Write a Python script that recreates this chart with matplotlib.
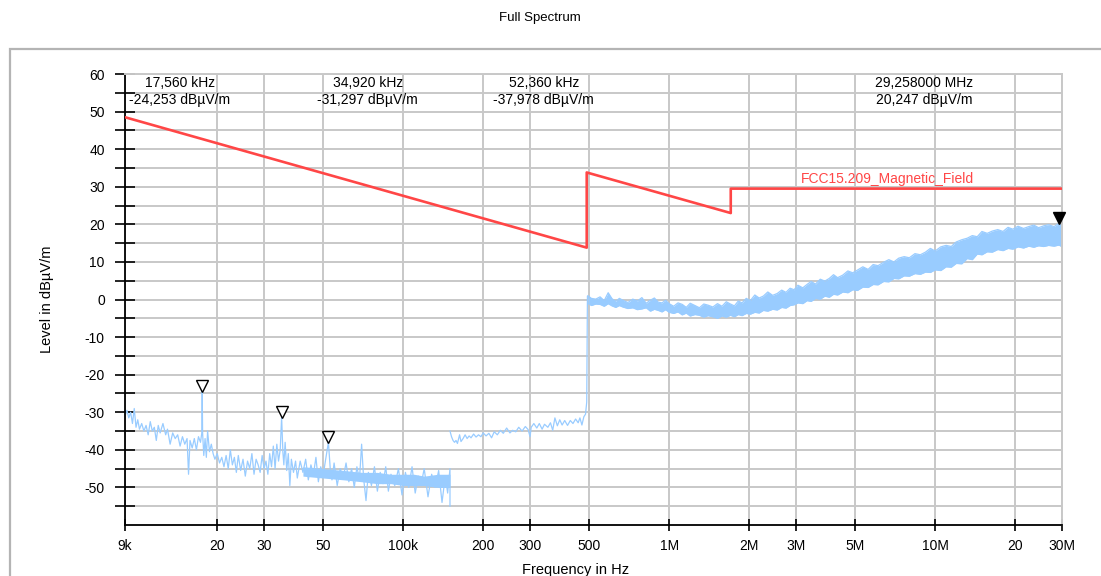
import numpy as np
import matplotlib
matplotlib.use("Agg")
from matplotlib import pyplot as plt
from matplotlib import transforms
from matplotlib.patches import Rectangle

plt.rcParams['font.family'] = ['Liberation Sans', 'DejaVu Sans']
plt.rcParams['axes.unicode_minus'] = False

# limit line FCC 15.209 (Hz, dBuV/m)
limit_f = [9e3, 490e3, 490e3, 1.705e6, 1.705e6, 30e6]
limit_lv = [48.5, 13.8, 33.8, 23.0, 29.5, 29.5]

# 9 kHz - 150 kHz sweep (kHz, dBuV/m)
lo_f = [9.0, 9.15, 9.3, 9.45, 9.6, 9.75, 9.9, 10.05, 10.2, 10.4, 10.6, 10.8, 11.0, 11.2, 11.4,
        11.6, 11.8, 12.0, 12.2, 12.5, 12.8, 13.0, 13.3, 13.6, 13.9, 14.2, 14.5, 14.8, 15.1, 15.4,
        15.6, 15.8, 16.1, 16.4, 16.7, 17.0, 17.3, 17.5, 17.56, 17.62, 17.8, 18.0, 18.2, 18.4, 18.7,
        19.0, 19.3, 19.6, 20.0, 20.4, 20.8, 21.2, 21.6, 22.0, 22.4, 22.8, 23.2, 23.6, 24.0, 24.5,
        25.0, 25.5, 26.0, 26.5, 27.0, 27.5, 28.0, 28.5, 29.0, 29.5, 30.0, 30.5, 31.0, 31.5, 32.0,
        32.5, 33.0, 33.5, 34.0, 34.5, 34.92, 35.3, 35.6, 36.0, 36.5, 37.0, 37.5, 38.0, 38.7, 39.4,
        40.0, 41, 42, 43, 44, 45, 46, 47, 48, 49, 50, 51, 52.36, 53.2, 54, 55, 56.5, 58, 59.5,
        61, 62.5, 64, 65.5, 67, 68.5, 69.8, 71, 72.5, 74, 76, 78, 80, 82, 84, 86, 88, 90, 93,
        96, 99, 102, 105, 108, 111, 114, 117, 120, 124, 128, 132, 136, 140, 144, 147, 150, 150.01]
lo_lv = [-31, -29.5, -31.5, -30, -33, -29, -34, -32, -34.5, -33, -35, -33.5, -36, -32.5, -35,
         -34, -37.5, -33.5, -35.5, -33, -36, -34.5, -38.5, -35.5, -37, -36, -39, -36.5, -38.5, -37,
         -46.5, -37.5, -39.5, -37, -40, -36.5, -38, -35.5, -24.25, -35.5, -41.5, -37, -42, -35, -40.5,
         -38.5, -41, -42.5, -41, -43.5, -42, -44.5, -41.5, -45, -40, -44, -42, -46, -41.5, -45.5,
         -42.5, -47, -43, -45, -41, -46.5, -42.5, -44, -46, -41.5, -45, -43, -46.5, -41, -44.5,
         -39, -45, -38.5, -43, -40, -31.3, -40.5, -44, -38, -45.5, -41, -49.5, -42.5, -46, -43,
         -47.5, -43, -46, -42.5, -48, -44, -46.5, -42, -48.5, -44.5, -47, -43, -38, -45, -48, -43.5,
         -49.5, -45, -47.5, -43.5, -48.5, -45, -50, -44.5, -48, -38.5, -47.5, -53.5, -46, -49.5,
         -44.5, -51, -46, -49, -44.5, -51, -46.5, -49.5, -45, -52, -46, -50, -44.5, -51.5, -47,
         -49, -45, -52.5, -46.5, -50, -45.5, -54, -47, -51.5, -45, -55]
# dense part of the low sweep (kHz, upper / lower)
lo_band_f = [42, 50, 60, 70, 80, 90, 100, 110, 120, 135, 150]
lo_band_hi = [-44.5, -45, -45.5, -46, -46, -46.5, -46.5, -46.5, -47, -46.5, -46.5]
lo_band_lo = [-47, -47.5, -48, -48.5, -49, -49, -49.5, -49.5, -49.5, -50, -50]

# 150 kHz - 490 kHz sweep (kHz, dBuV/m)
mid_f = [150, 152, 154, 156, 158, 160, 163, 165, 168, 171, 174, 177, 180, 184, 188, 192, 196,
         200, 205, 210, 215, 220, 226, 232, 238, 245, 252, 258, 265, 272, 280, 288, 295, 300,
         303, 310, 318, 325, 333, 340, 350, 358, 365, 372, 380, 388, 396, 405, 415, 425, 435,
         445, 455, 462, 470, 478, 485, 490, 493]
mid_lv = [-35, -36.5, -37.5, -38, -37.5, -38.3, -36, -37.8, -37, -36, -37, -36.3, -36.8, -35.8,
          -36.6, -36, -36.5, -35.5, -36.3, -35.6, -36.8, -35.2, -36, -34.8, -35.6, -34.2, -35.5,
          -34.8, -35.2, -34, -35, -33.8, -34.6, -36.5, -34, -33, -34.2, -33, -34.5, -33.2, -34,
          -32.8, -34.8, -31.5, -33.6, -32, -33.4, -32.2, -33.5, -32.2, -33, -31.8, -32.8, -31.5,
          -33.4, -31.2, -30.5, -27.3, 0.8]

# 490 kHz - 30 MHz sweep (MHz, upper / lower of trace)
hi_f = [0.495, 0.51, 0.53, 0.55, 0.57, 0.59, 0.61, 0.63, 0.65, 0.67,
        0.70, 0.73, 0.76, 0.79, 0.82, 0.85, 0.88, 0.91, 0.94, 0.97,
        1.0, 1.04, 1.08, 1.12, 1.16, 1.20, 1.25, 1.30, 1.35, 1.40,
        1.46, 1.52, 1.58, 1.64, 1.70, 1.76, 1.82, 1.88, 1.95, 2.02,
        2.10, 2.18, 2.26, 2.35, 2.45, 2.55, 2.65, 2.75, 2.85, 2.95,
        3.05, 3.18, 3.30, 3.42, 3.55, 3.70, 3.85, 4.0, 4.15, 4.3,
        4.5, 4.7, 4.9, 5.1, 5.35, 5.6, 5.85, 6.1, 6.4, 6.7,
        7.0, 7.3, 7.65, 8.0, 8.4, 8.8, 9.2, 9.6, 10.0, 10.5,
        11.0, 11.5, 12.0, 12.6, 13.2, 13.8, 14.4, 15.0, 15.7, 16.4,
        17.2, 18.0, 18.8, 19.6, 20.5, 21.5, 22.5, 23.5, 24.5, 25.6,
        26.7, 28.0, 29.258, 30.0]
hi_up = [1.0, 0.3, 0.1, 0.7, -0.3, 1.8, 0.2, -0.5, 0.3, -0.2,
         -0.8, 0.1, -0.4, 0.5, -1.0, -0.2, 0.4, -0.7, -0.9, -0.2,
         -1.1, -1.8, -0.9, -1.3, -2.1, -1.0, -1.6, -2.2, -1.2, -1.5,
         -2.0, -1.1, -1.8, -0.6, -1.2, -1.7, -0.4, -0.9, 0.3, -0.3,
         1.2, 0.4, 0.9, 2.0, 1.1, 1.6, 2.5, 1.9, 3.0, 2.6,
         3.8, 3.1, 4.0, 4.8, 4.1, 5.4, 4.9, 5.6, 6.6, 5.8,
         6.5, 7.6, 7.1, 7.8, 8.7, 8.0, 9.3, 9.0, 9.9, 10.6,
         10.0, 11.0, 11.4, 11.1, 12.2, 11.9, 12.6, 13.6, 12.9, 14.0,
         14.4, 14.1, 15.3, 15.9, 16.3, 17.0, 16.7, 18.1, 17.6, 18.2,
         18.6, 18.1, 19.2, 18.7, 19.5, 18.9, 19.4, 19.8, 19.1, 19.6,
         19.9, 19.4, 20.25, 19.3]
hi_dn = [-1.0, -1.6, -1.2, -1.3, -1.8, -1.1, -1.7, -2.1, -1.6, -2.0,
         -2.4, -2.2, -2.7, -2.5, -2.2, -3.1, -2.6, -2.9, -3.3, -2.7,
         -3.4, -3.7, -3.3, -4.1, -3.6, -4.4, -4.0, -4.2, -4.7, -4.3,
         -4.6, -5.0, -4.4, -4.7, -4.2, -4.6, -4.0, -4.3, -3.7, -3.9,
         -3.4, -3.6, -2.9, -3.1, -2.6, -2.8, -2.1, -2.3, -1.6, -1.4,
         -0.9, -1.1, -0.3, -0.5, 0.3, 0.1, 0.9, 0.6, 1.4, 1.2,
         2.0, 1.8, 2.6, 2.4, 3.3, 3.2, 4.0, 3.9, 4.8, 4.7,
         5.6, 5.5, 6.3, 6.2, 6.9, 6.7, 7.3, 7.2, 7.9, 7.7,
         8.7, 8.6, 9.6, 9.5, 10.9, 10.6, 12.1, 11.9, 12.7, 12.6,
         13.3, 13.0, 13.6, 13.4, 14.0, 13.7, 14.2, 13.9, 14.3, 14.1,
         14.4, 14.2, 14.5, 14.0]

# markers (Hz, dBuV/m)
mk_f = [17.56e3, 34.92e3, 52.36e3]
mk_lv = [-24.253, -31.297, -37.978]
pk_f = 29.258e6
pk_lv = 20.247
mk_text = ["17,560 kHz\n-24,253 dBµV/m", "34,920 kHz\n-31,297 dBµV/m",
           "52,360 kHz\n-37,978 dBµV/m", "29,258000 MHz\n20,247 dBµV/m"]

xt = [9e3, 20e3, 30e3, 50e3, 100e3, 200e3, 300e3, 500e3, 1e6, 2e6, 3e6, 5e6, 10e6, 20e6, 30e6]
xt_lab = ["9k", "20", "30", "50", "100k", "200", "300", "500", "1M", "2M", "3M", "5M", "10M", "20", "30M"]

trace_c = "#99ccff"
limit_c = "#ff4646"
grid_c = "#c8c8c8"

fig = plt.figure(figsize=(11.01, 5.76), dpi=100)
ax = fig.add_axes([125 / 1101, 51 / 576, 937 / 1101, 451 / 576])

# outer frame
fig.add_artist(Rectangle((10 / 1101, -0.2), 1.2, 1.2 + (576 - 49) / 576 - 1.0,
                         transform=fig.transFigure, fill=False, ec="#b4b4b4", lw=1.6))

ax.set_xscale("log")
ax.set_xlim(9e3, 30e6)
ax.set_ylim(-60, 60)

lo_hz = np.array(lo_f) * 1e3
ax.fill_between(np.array(lo_band_f) * 1e3, lo_band_lo, lo_band_hi, color=trace_c, lw=0, zorder=2)
ax.plot(lo_hz, lo_lv, color=trace_c, lw=0.9, zorder=2)
ax.plot(np.array(mid_f) * 1e3, mid_lv, color=trace_c, lw=0.9, zorder=2)
hi_hz = np.array(hi_f) * 1e6
ax.fill_between(hi_hz, hi_dn, hi_up, color=trace_c, lw=0, zorder=2)
ax.plot(hi_hz, hi_up, color=trace_c, lw=0.9, zorder=2)
ax.plot(hi_hz, hi_dn, color=trace_c, lw=0.9, zorder=2)

ax.plot(limit_f, limit_lv, color=limit_c, lw=1.9, zorder=3)
ax.text(3.13e6, 29.5 + 0.6, "FCC15.209_Magnetic_Field", color=limit_c, fontsize=10,
        va="bottom", ha="left", zorder=4)

# marker triangles sit on top of the peaks
up = transforms.offset_copy(ax.transData, fig=fig, x=0, y=5, units="dots")
ax.plot(mk_f, mk_lv, ls="none", marker="v", ms=9, mfc="white", mec="black", mew=1.0,
        transform=up, zorder=5, clip_on=False)
ax.plot([pk_f], [pk_lv], ls="none", marker="v", ms=9, mfc="black", mec="black",
        transform=up, zorder=5, clip_on=False)

for xf, s in zip([0.0587, 0.259, 0.447, 0.853], mk_text):
    ax.text(xf, 0.995, s, transform=ax.transAxes, ha="center", va="top", fontsize=10,
            linespacing=1.25, zorder=6)

# axes, ticks and grid
ax.set_yticks(np.arange(-50, 61, 10))
ax.set_yticks(np.arange(-55, 60, 10), minor=True)
ax.set_xticks(xt)
ax.set_xticklabels(xt_lab)
ax.xaxis.set_minor_locator(matplotlib.ticker.NullLocator())
ax.tick_params(axis="y", which="both", direction="inout", length=15, width=1.2,
               labelsize=10, pad=7)
ax.tick_params(axis="x", direction="inout", length=8, width=1.2, labelsize=10, pad=6)
ax.grid(True, which="both", axis="y", color=grid_c, lw=1.4)
ax.grid(True, which="major", axis="x", color=grid_c, lw=1.4)
ax.set_axisbelow(True)
for side in ["top", "right"]:
    ax.spines[side].set_color(grid_c)
    ax.spines[side].set_linewidth(1.4)
for side in ["left", "bottom"]:
    ax.spines[side].set_color("black")
    ax.spines[side].set_linewidth(1.3)

ax.set_xlabel("Frequency in Hz", fontsize=10.5)
ax.xaxis.set_label_coords((576 - 125) / 937, -0.085)
ax.set_ylabel("Level in dBµV/m", fontsize=10.5)
ax.yaxis.set_label_coords(-(125 - 54) / 937, 0.5)

fig.text(540 / 1101, 1 - 18 / 576, "Full Spectrum", ha="center", va="center", fontsize=9.5,
         family=["Liberation Sans Narrow", "Liberation Sans", "DejaVu Sans"])

fig.savefig("out.png", dpi=100)
